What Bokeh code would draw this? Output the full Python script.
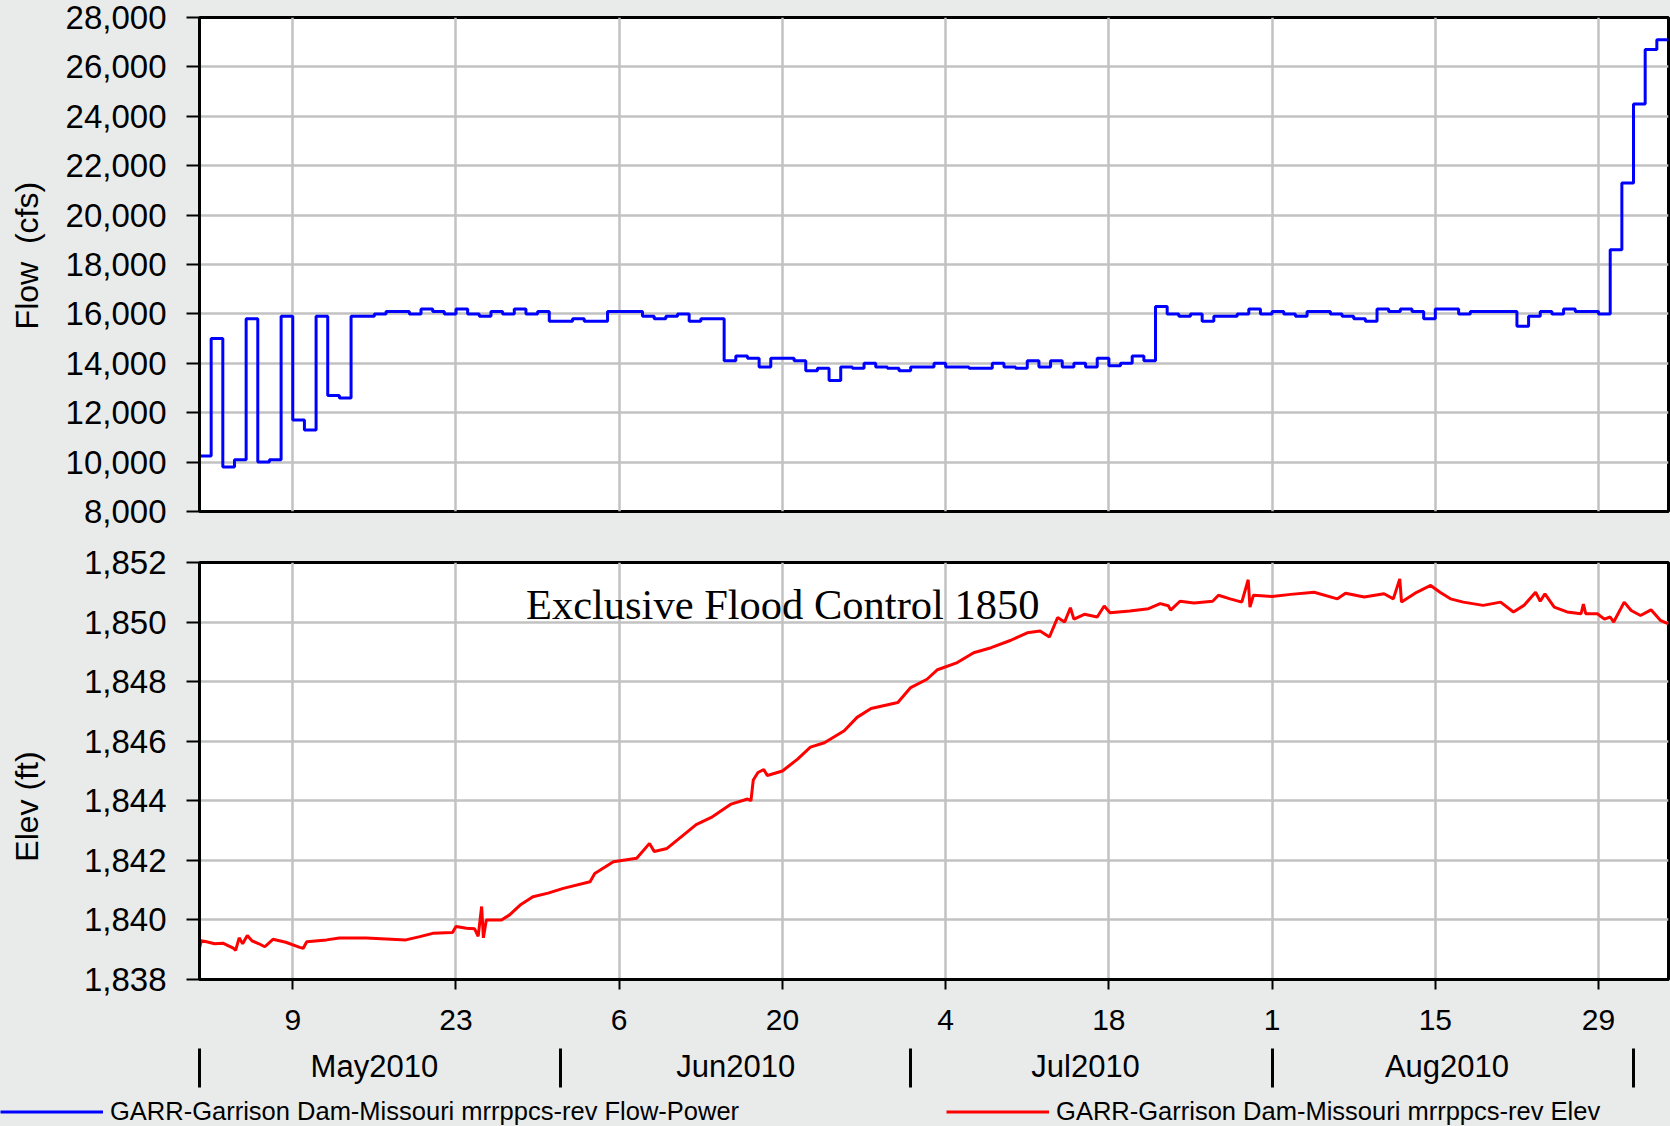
import pandas as pd
from bokeh.plotting import figure
from bokeh.layouts import column, row
from bokeh.models import (Range1d, FixedTicker, NumeralTickFormatter, LinearAxis,
                          Label, Legend, LegendItem)
from bokeh.embed import file_html
from bokeh.resources import INLINE

# ---------------- data ----------------
START_DATE = "2010-05-01"
END_DATE = "2010-09-04"

# daily mean release (cfs), one value per day starting 2010-05-01
flow_cfs = [
    10250, 15000, 9800, 10100, 15800, 10000, 10100, 15900, 11700, 11300,
    15900, 12700, 12600, 15900, 15900, 16000, 16100, 16100, 16000, 16200,
    16100, 16000, 16200, 16000, 15900, 16100, 16000, 16200, 16000, 16100,
    15700, 15700, 15800, 15700, 15700, 16100, 16100, 16100, 15900, 15800,
    15900, 16000, 15700, 15800, 15800, 14100, 14300, 14200, 13850, 14200,
    14200, 14100, 13700, 13800, 13300, 13850, 13800, 14000, 13850, 13800,
    13700, 13850, 13850, 14000, 13850, 13850, 13800, 13800, 14000, 13850,
    13800, 14100, 13850, 14100, 13850, 14000, 13850, 14200, 13900, 14000,
    14300, 14100, 16300, 16000, 15900, 16000, 15700, 15900, 15900, 16000,
    16200, 16000, 16100, 16000, 15900, 16100, 16100, 16000, 15900, 15800,
    15700, 16200, 16100, 16200, 16100, 15800, 16200, 16200, 16000, 16100,
    16100, 16100, 16100, 15500, 15900, 16100, 16000, 16200, 16100, 16100,
    16000, 18600, 21300, 24500, 26700, 27100,
]

# pool elevation (ft): time in days after 2010-05-01, value
elev_day = [
    0.0, 0.15, 0.6, 1.3, 2.0, 2.9, 3.1, 3.4, 3.7, 4.1,
    4.5, 5.1, 5.6, 6.3, 7.4, 8.6, 8.9, 9.2, 10.9, 12.0,
    14.3, 16.0, 17.7, 18.9, 20.0, 21.7, 22.0, 22.9, 23.6, 23.9,
    24.2, 24.35, 24.6, 25.9, 26.6, 27.5, 28.6, 29.9, 31.2, 33.5,
    33.9, 35.5, 37.5, 38.6, 39.0, 40.1, 41.5, 42.6, 43.9, 45.6,
    47.0, 47.3, 47.5, 47.9, 48.4, 48.7, 50.0, 51.3, 52.4, 53.6,
    55.3, 56.4, 57.6, 59.9, 61.0, 62.4, 63.3, 65.0, 66.4, 67.9,
    69.6, 71.0, 72.1, 72.9, 73.6, 74.2, 74.7, 75.0, 75.9, 77.0,
    77.6, 78.1, 79.8, 81.4, 82.4, 83.1, 83.3, 84.1, 85.3, 86.9,
    87.4, 88.4, 89.4, 89.95, 90.1, 90.4, 92.0, 93.6, 95.6, 97.6,
    98.3, 99.9, 101.6, 102.4, 102.95, 103.1, 104.4, 105.6, 106.4, 107.3,
    108.4, 110.1, 111.6, 112.7, 113.6, 114.6, 115.0, 115.4, 116.2, 117.3,
    118.5, 118.7, 118.9, 119.9, 120.5, 121.0, 121.3, 122.2, 122.8, 123.6,
    124.5, 125.3, 126.0,
]
elev_ft = [
    1839.05, 1839.30, 1839.27, 1839.20, 1839.22, 1839.05, 1838.98, 1839.40, 1839.20, 1839.48,
    1839.30, 1839.20, 1839.10, 1839.35, 1839.25, 1839.08, 1839.05, 1839.27, 1839.33, 1839.39,
    1839.39, 1839.36, 1839.33, 1839.44, 1839.55, 1839.58, 1839.78, 1839.72, 1839.70, 1839.45,
    1840.45, 1839.40, 1840.00, 1840.00, 1840.17, 1840.50, 1840.78, 1840.90, 1841.06, 1841.28,
    1841.56, 1841.95, 1842.07, 1842.57, 1842.30, 1842.40, 1842.85, 1843.20, 1843.44, 1843.89,
    1844.06, 1844.00, 1844.70, 1844.95, 1845.05, 1844.85, 1845.00, 1845.40, 1845.80, 1845.95,
    1846.35, 1846.80, 1847.10, 1847.30, 1847.80, 1848.08, 1848.40, 1848.64, 1848.97, 1849.14,
    1849.39, 1849.64, 1849.70, 1849.50, 1850.15, 1850.00, 1850.48, 1850.10, 1850.26, 1850.17,
    1850.54, 1850.31, 1850.37, 1850.45, 1850.62, 1850.55, 1850.40, 1850.70, 1850.64, 1850.70,
    1850.90, 1850.78, 1850.67, 1851.42, 1850.50, 1850.90, 1850.86, 1850.93, 1851.00, 1850.78,
    1850.97, 1850.84, 1850.95, 1850.78, 1851.45, 1850.67, 1851.00, 1851.23, 1851.00, 1850.78,
    1850.67, 1850.56, 1850.67, 1850.34, 1850.56, 1851.00, 1850.70, 1850.95, 1850.50, 1850.34,
    1850.28, 1850.60, 1850.28, 1850.28, 1850.10, 1850.17, 1850.00, 1850.67, 1850.39, 1850.22,
    1850.41, 1850.06, 1849.94,
]

day_tick_dates = ["2010-05-09", "2010-05-23", "2010-06-06", "2010-06-20", "2010-07-04",
                  "2010-07-18", "2010-08-01", "2010-08-15", "2010-08-29"]
month_start_dates = ["2010-05-01", "2010-06-01", "2010-07-01", "2010-08-01", "2010-09-01"]
month_labels = ["May2010", "Jun2010", "Jul2010", "Aug2010"]
flow_ticks = [8000, 10000, 12000, 14000, 16000, 18000, 20000, 22000, 24000, 26000, 28000]
elev_ticks = [1838, 1840, 1842, 1844, 1846, 1848, 1850, 1852]

flood_text = "Exclusive Flood Control 1850"
flood_date = "2010-05-29"
flood_label_elev = 1850.6

flow_name = "GARR-Garrison Dam-Missouri mrrppcs-rev Flow-Power"
elev_name = "GARR-Garrison Dam-Missouri mrrppcs-rev Elev"

# ---------------- helpers ----------------
t0 = pd.Timestamp(START_DATE)


def day_of(d):
    return int(round((pd.Timestamp(d) - t0) / pd.Timedelta(days=1)))


x_end = day_of(END_DATE)
day_ticks = [day_of(d) for d in day_tick_dates]
day_labels = {t: str(pd.Timestamp(d).day) for t, d in zip(day_ticks, day_tick_dates)}
month_starts = [day_of(d) for d in month_start_dates]
month_mids = [(a + b) // 2 for a, b in zip(month_starts[:-1], month_starts[1:])]
month_label_map = {m: lab for m, lab in zip(month_mids, month_labels)}

flow_x = list(range(len(flow_cfs))) + [len(flow_cfs)]
flow_y = flow_cfs + [flow_cfs[-1]]

BG = "#e9ebea"
GRID = "#c2c2c2"
FONT = "Liberation Sans"
W = 1670
NB = "\u00a0"


def style(p, yticks, label, label_standoff):
    p.background_fill_color = "white"
    p.border_fill_color = BG
    p.outline_line_color = "black"
    p.outline_line_width = 3
    p.xgrid.ticker = FixedTicker(ticks=day_ticks)
    p.ygrid.ticker = FixedTicker(ticks=yticks)
    for g in (p.xgrid, p.ygrid):
        g.grid_line_color = GRID
        g.grid_line_width = 2.5
    ax = p.yaxis[0]
    ax.ticker = FixedTicker(ticks=yticks)
    ax.formatter = NumeralTickFormatter(format="0,0")
    ax.major_label_text_font = FONT
    ax.major_label_text_font_size = "33px"
    ax.major_label_text_color = "black"
    ax.major_tick_out = 13
    ax.major_tick_in = 0
    ax.major_tick_line_width = 2
    ax.major_tick_line_color = "black"
    ax.minor_tick_line_color = None
    ax.axis_line_width = 3
    ax.axis_line_color = "black"
    ax.major_label_standoff = 20
    ax.axis_label = label
    ax.axis_label_text_font = FONT
    ax.axis_label_text_font_size = "32px"
    ax.axis_label_text_font_style = "normal"
    ax.axis_label_text_color = "black"
    ax.axis_label_standoff = label_standoff


# ---------------- top: flow ----------------
p1 = figure(width=W, height=536, output_backend="svg", toolbar_location=None,
            x_range=Range1d(0, x_end), y_range=Range1d(flow_ticks[0], flow_ticks[-1]),
            min_border_left=199, min_border_right=2, min_border_top=17, min_border_bottom=25)
style(p1, flow_ticks, NB * 2 + "Flow" + NB + NB + "(cfs)", 18)
p1.xaxis.visible = False
p1.step(flow_x, flow_y, mode="after", line_color="#0000ff", line_width=3)

# ---------------- bottom: elevation ----------------
p2 = figure(width=W, height=560, output_backend="svg", toolbar_location=None,
            x_range=p1.x_range, y_range=Range1d(elev_ticks[0], elev_ticks[-1]),
            min_border_left=199, min_border_right=2, min_border_top=26, min_border_bottom=117)
style(p2, elev_ticks, "Elev (ft)" + NB * 8, 36)
p2.line(elev_day, elev_ft, line_color="#ff0000", line_width=3)

xa = p2.xaxis[0]
xa.ticker = FixedTicker(ticks=day_ticks)
xa.major_label_overrides = day_labels
xa.major_label_text_font = FONT
xa.major_label_text_font_size = "30px"
xa.major_label_text_color = "black"
xa.major_tick_out = 10
xa.major_tick_in = 0
xa.major_tick_line_width = 2
xa.major_tick_line_color = "black"
xa.minor_tick_line_color = None
xa.axis_line_width = 3
xa.axis_line_color = "black"
xa.major_label_standoff = 20

ma = LinearAxis(ticker=FixedTicker(ticks=month_mids, minor_ticks=month_starts))
ma.major_label_overrides = month_label_map
ma.major_label_text_font = FONT
ma.major_label_text_font_size = "31px"
ma.major_label_text_color = "black"
ma.major_tick_in = 0
ma.major_tick_out = 0
ma.major_tick_line_color = None
ma.minor_tick_in = -16
ma.minor_tick_out = 55
ma.minor_tick_line_width = 3
ma.minor_tick_line_color = "black"
ma.axis_line_color = None
ma.major_label_standoff = -39
p2.add_layout(ma, "below")

p2.add_layout(Label(x=day_of(flood_date), y=flood_label_elev, text=flood_text,
                    text_font="Liberation Serif", text_font_size="42.5px",
                    text_color="black", text_baseline="middle", text_align="left"))

# ---------------- legend strip ----------------
p3 = figure(width=W, height=30, output_backend="svg", toolbar_location=None,
            x_axis_type=None, y_axis_type=None, min_border=0,
            x_range=Range1d(0, 1), y_range=Range1d(0, 1))
p3.outline_line_color = None
p3.background_fill_color = BG
p3.border_fill_color = BG
p3.grid.visible = False
# series drawn again here only to give the legend its samples (out of this strip's range)
leg_flow = p3.step(flow_x, flow_y, mode="after", line_color="#0000ff", line_width=3)
leg_elev = p3.line(elev_day, elev_ft, line_color="#ff0000", line_width=3)
legend = Legend(items=[LegendItem(label=flow_name, renderers=[leg_flow]),
                       LegendItem(label=elev_name, renderers=[leg_elev])],
                location="center_left", orientation="horizontal",
                glyph_width=103, glyph_height=24, label_standoff=7, spacing=207,
                padding=0, margin=0, border_line_color=None, background_fill_alpha=0,
                label_text_font=FONT, label_text_font_size="25.5px", label_text_color="black")
p3.add_layout(legend, "center")

layout = column(p1, p2, row(p3), spacing=0, styles={"background-color": BG})

html = file_html(layout, INLINE)
html = html.replace("<head>", "<head><style>body{background:%s;}</style>" % BG, 1)
open("out.html", "w").write(html)
